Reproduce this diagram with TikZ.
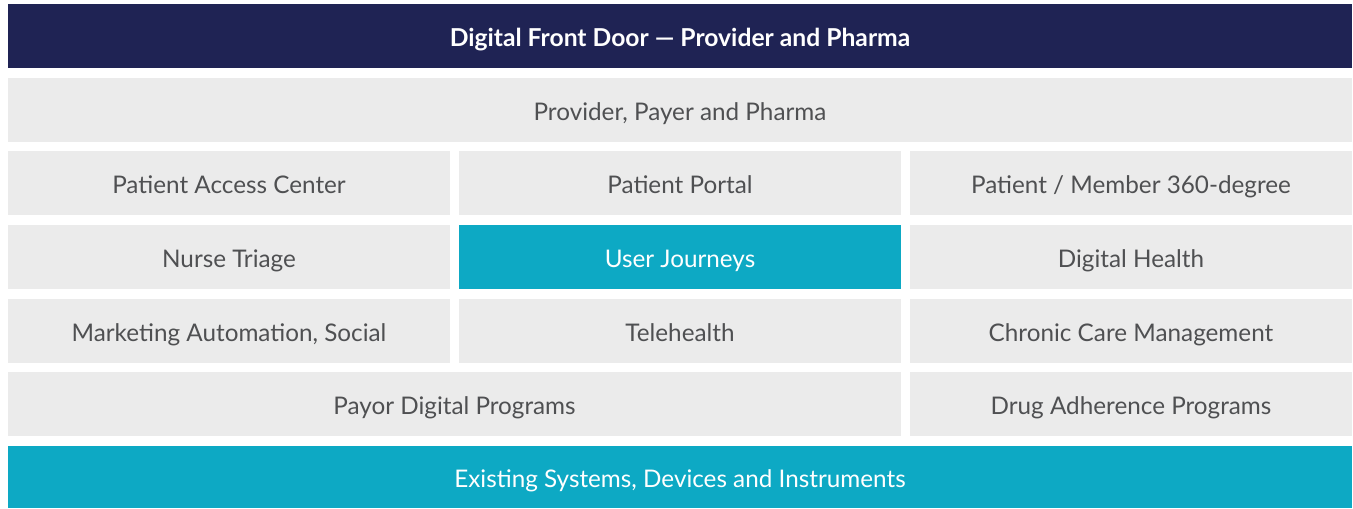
\documentclass[tikz,border=0pt]{standalone}
\usepackage{fontspec}
\setmainfont{Lato}
\usepackage{xcolor}
\usepackage{tikz}
\usetikzlibrary{positioning}

\definecolor{navy}{HTML}{1F2354}
\definecolor{cellgray}{HTML}{EBEBEB}
\definecolor{teal}{HTML}{0DA9C4}
\definecolor{txtgray}{HTML}{4F5052}

\tikzset{
  cell/.style={fill=cellgray, text=txtgray, inner sep=0pt, minimum height=48pt,
    text height=1.5em, text depth=0pt,
    font=\fontsize{18.2}{21}\selectfont},
  wd/.style={minimum width=#1*0.75pt},
  accent/.style={cell, fill=teal, text=white},
  banner/.style={cell, fill=navy, text=white, font=\bfseries\fontsize{18.5}{21}\selectfont}
}

\begin{document}
\begin{tikzpicture}[x=0.75pt, y=-0.75pt]
    \useasboundingbox (0,0) rectangle (1353,508);
    % header
    \node [banner, wd=1344] (title) at (680,36) {Digital Front Door — Provider and Pharma};
    \node [cell, wd=1344] (ppp) at (680,110) {Provider, Payer and Pharma};
    % grid
    \node [cell, wd=442] (access) at (229,183) {Patient Access Center};
    \node [cell, wd=442] (portal) at (680,183) {Patient Portal};
    \node [cell, wd=442] (member) at (1131,183) {Patient / Member 360-degree};
    \node [cell, wd=442] (triage) at (229,257) {Nurse Triage};
    \node [accent, wd=442] (journeys) at (680,257) {User Journeys};
    \node [cell, wd=442] (dhealth) at (1131,257) {Digital Health};
    \node [cell, wd=442] (mkt) at (229,331) {Marketing Automation, Social};
    \node [cell, wd=442] (tele) at (680,331) {Telehealth};
    \node [cell, wd=442] (chronic) at (1131,331) {Chronic Care Management};
    \node [cell, wd=893] (payor) at (454.5,404) {Payor Digital Programs};
    \node [cell, wd=442] (drug) at (1131,404) {Drug Adherence Programs};
    % footer
    \node [accent, wd=1344, minimum height=46.5pt] (existing) at (680,477) {Existing Systems, Devices and Instruments};
\end{tikzpicture}
\end{document}
